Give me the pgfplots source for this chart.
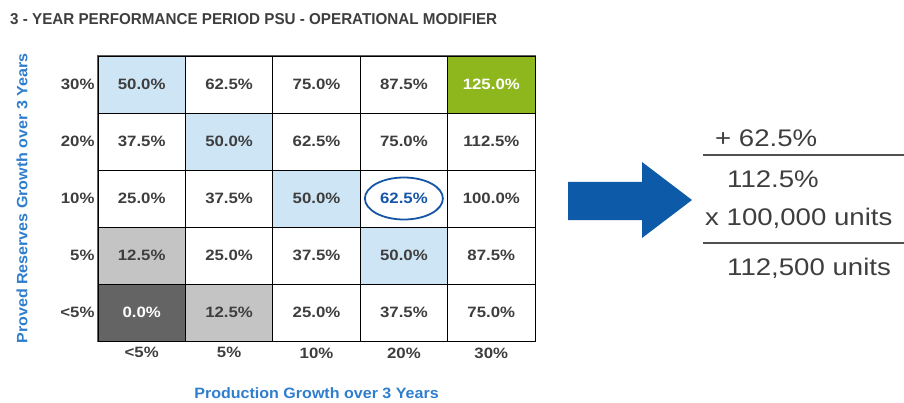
\documentclass[border=0pt]{standalone}
\usepackage{graphicx}
\usepackage{pgfplots}
\pgfplotsset{compat=1.18}
\usepackage{pgfplotstable}
\usepackage{fontspec}
\setmainfont{Liberation Sans}
\usetikzlibrary{shapes.geometric}

\definecolor{txt}{RGB}{62,62,62}
\definecolor{gridc}{RGB}{95,95,95}
\definecolor{labelblue}{RGB}{47,125,205}
\definecolor{ellblue}{RGB}{22,85,165}
\definecolor{arrowblue}{RGB}{12,90,168}
\definecolor{rulec}{RGB}{80,80,80}
\definecolor{cellblue}{RGB}{206,229,246}
\definecolor{cellgreen}{RGB}{141,183,28}
\definecolor{celllgray}{RGB}{196,196,196}
\definecolor{celldgray}{RGB}{100,100,100}

\tikzset{cellmark/.style={draw=none, xscale=1.534}}

% text in the reference is slightly wide
\newcommand{\sx}[1]{\scalebox{1.12}[1]{#1}}
\newcommand{\slab}[1]{\scalebox{1.07}[1]{#1}}

% cat: 0 white, 1 light blue, 2 light grey, 3 green, 4 dark grey, 5 circled
\pgfplotstableread{
x y cat cls val
0 0 4 d 0.0
1 0 2 l 12.5
2 0 0 w 25.0
3 0 0 w 37.5
4 0 0 w 75.0
0 1 2 l 12.5
1 1 0 w 25.0
2 1 0 w 37.5
3 1 1 b 50.0
4 1 0 w 87.5
0 2 0 w 25.0
1 2 0 w 37.5
2 2 1 b 50.0
3 2 5 c 62.5
4 2 0 w 100.0
0 3 0 w 37.5
1 3 1 b 50.0
2 3 0 w 62.5
3 3 0 w 75.0
4 3 0 w 112.5
0 4 1 b 50.0
1 4 0 w 62.5
2 4 0 w 75.0
3 4 0 w 87.5
4 4 3 g 125.0
}\cells

\begin{document}
\begin{tikzpicture}
\useasboundingbox (0,0) rectangle (904pt,402pt);

\node[anchor=south west, inner sep=0pt, text=txt] at (10pt,377pt)
  {\resizebox{487pt}{11pt}{\bfseries 3 - YEAR PERFORMANCE PERIOD PSU - OPERATIONAL MODIFIER}};

\begin{axis}[
    at={(98pt,61pt)}, anchor=south west,
    width=437pt, height=285pt, scale only axis,
    xmin=-0.5, xmax=4.5, ymin=-0.5, ymax=4.5,
    xtick={0,1,2,3,4}, ytick={0,1,2,3,4},
    xticklabels={\sx{<5\%},\sx{5\%},\sx{10\%},\sx{20\%},\sx{30\%}},
    yticklabels={\sx{<5\%},\sx{5\%},\sx{10\%},\sx{20\%},\sx{30\%}},
    major tick length=0pt, minor tick length=0pt,
    minor xtick={-0.5,0.5,1.5,2.5,3.5,4.5},
    minor ytick={-0.5,0.5,1.5,2.5,3.5,4.5},
    xminorgrids, yminorgrids,
    minor grid style={draw=gridc, line width=1.4pt},
    axis line style={draw=gridc, line width=1.4pt},
    axis on top,
    tick label style={font=\fontsize{15}{15}\selectfont\bfseries, text=txt},
    xticklabel style={yshift=-3pt},
    xlabel={\slab{Production Growth over 3 Years}},
    ylabel={\slab{Proved Reserves Growth over 3 Years}},
    xlabel style={at={(axis description cs:0.5,-0.182)}, anchor=center,
      font=\fontsize{15}{15}\selectfont\bfseries, text=labelblue},
    ylabel style={at={(axis description cs:-0.174,0.5)}, anchor=center,
      font=\fontsize{15}{15}\selectfont\bfseries, text=labelblue},
    /pgf/number format/assume math mode=true,
]

% cell fills
\addplot[scatter, only marks, mark=square*, mark size=28.6pt,
  scatter src=explicit symbolic,
  scatter/classes={
    w={mark=square*, cellmark, fill=white},
    b={mark=square*, cellmark, fill=cellblue},
    l={mark=square*, cellmark, fill=celllgray},
    g={mark=square*, cellmark, fill=cellgreen},
    d={mark=square*, cellmark, fill=celldgray},
    c={mark=square*, cellmark, fill=white}}]
  table[x=x, y=y, meta=cls] {\cells};

% cell values, dark text
\addplot[draw=none, mark=none, restrict expr to domain={\thisrow{cat}}{0:2},
  point meta=\thisrow{val},
  nodes near coords={\sx{\pgfmathprintnumber[fixed, fixed zerofill, precision=1]{\pgfplotspointmeta}\%}},
  every node near coord/.append style={anchor=center, text=txt,
    font=\fontsize{15}{15}\selectfont\bfseries}]
  table[x=x, y=y] {\cells};

% cell values, white text
\addplot[draw=none, mark=none, restrict expr to domain={\thisrow{cat}}{3:4},
  point meta=\thisrow{val},
  nodes near coords={\sx{\pgfmathprintnumber[fixed, fixed zerofill, precision=1]{\pgfplotspointmeta}\%}},
  every node near coord/.append style={anchor=center, text=white,
    font=\fontsize{15}{15}\selectfont\bfseries}]
  table[x=x, y=y] {\cells};

% circled cell
\addplot[draw=none, mark=none, restrict expr to domain={\thisrow{cat}}{5:5},
  point meta=\thisrow{val},
  nodes near coords={\sx{\pgfmathprintnumber[fixed, fixed zerofill, precision=1]{\pgfplotspointmeta}\%}},
  every node near coord/.append style={anchor=center, text=ellblue,
    draw=ellblue, line width=1.8pt, ellipse, inner sep=0pt,
    minimum width=78pt, minimum height=42pt,
    font=\fontsize{15}{15}\selectfont\bfseries}]
  table[x=x, y=y] {\cells};
\end{axis}

% arrow
\fill[arrowblue] (568pt,182pt) -- (642pt,182pt) -- (642pt,164pt) -- (692pt,202pt)
  -- (642pt,240pt) -- (642pt,220pt) -- (568pt,220pt) -- cycle;

% worked example
\begin{scope}[every node/.style={anchor=base west, inner sep=0pt, text=txt,
    font=\fontsize{24}{24}\selectfont}]
\node at (715pt,255pt) {\scalebox{1.15}[1]{+ 62.5\%}};
\draw[rulec, line width=2pt] (703pt,247pt) -- (904pt,247pt);
\node at (727pt,214pt) {\scalebox{1.15}[1]{112.5\%}};
\node at (705pt,177pt) {\scalebox{1.15}[1]{x 100,000 units}};
\draw[rulec, line width=2pt] (703pt,159pt) -- (904pt,159pt);
\node at (727pt,127pt) {\scalebox{1.15}[1]{112,500 units}};
\end{scope}
\end{tikzpicture}
\end{document}
